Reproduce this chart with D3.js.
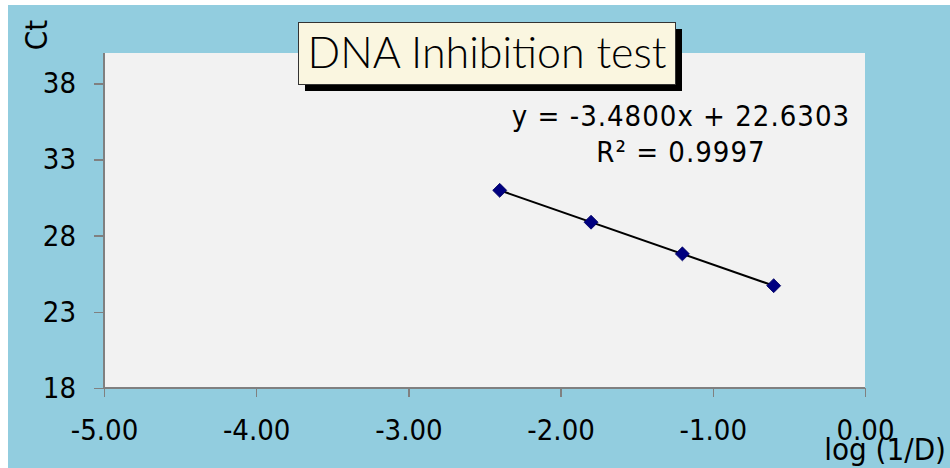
<!DOCTYPE html>
<html>
<head>
<meta charset="UTF-8">
<title>DNA Inhibition test</title>
<script src="https://d3js.org/d3.v7.min.js"></script>
<style>
    body { margin: 0; background: #fff; }
    .tick text { font-family: "DejaVu Sans Condensed", "DejaVu Sans", sans-serif; fill: #000; }
    .axis path, .axis line { stroke: #808080; stroke-width: 1.5; shape-rendering: crispEdges; }
</style>
</head>
<body>
<script>
    // data
    var logDilution = [-2.4, -1.8, -1.2, -0.6];
    var ctValues = [30.98, 28.89, 26.81, 24.72];
    var xTicks = [-5, -4, -3, -2, -1, 0];
    var yTicks = [18, 23, 28, 33, 38];
    var slope = -3.48, intercept = 22.6303;

    var width = 950, height = 468;
    var plot = { left: 104, right: 865, top: 53, bottom: 388 };

    var svg = d3.select("body").append("svg")
        .attr("width", width)
        .attr("height", height);

    // chart background
    svg.append("rect")
        .attr("x", 8).attr("y", 5)
        .attr("width", width - 8).attr("height", height - 5)
        .attr("fill", "#92CDDF");

    svg.append("rect")
        .attr("x", plot.left).attr("y", plot.top)
        .attr("width", plot.right - plot.left).attr("height", plot.bottom - plot.top)
        .attr("fill", "#F2F2F2");

    var x = d3.scaleLinear().domain([-5, 0]).range([plot.left, plot.right]);
    var y = d3.scaleLinear().domain([18, 40]).range([plot.bottom, plot.top]);

    var xAxis = d3.axisBottom(x).tickValues(xTicks).tickSize(9).tickPadding(22)
        .tickFormat(function (d) { return d.toFixed(2); });
    var yAxis = d3.axisLeft(y).tickValues(yTicks).tickSize(10).tickPadding(18)
        .tickFormat(function (d) { return d; });

    svg.append("g")
        .attr("class", "axis")
        .attr("transform", "translate(0," + plot.bottom + ")")
        .call(xAxis)
        .call(function (g) { g.select(".domain").attr("d", "M" + plot.left + ",0H" + plot.right); })
        .selectAll("text").style("font-size", "29px");

    svg.append("g")
        .attr("class", "axis")
        .attr("transform", "translate(" + plot.left + ",0)")
        .call(yAxis)
        .call(function (g) { g.select(".domain").attr("d", "M0," + plot.top + "V" + plot.bottom).attr("stroke", "#555"); })
        .selectAll("text").style("font-size", "29px");

    // trendline
    var xr = d3.extent(logDilution);
    svg.append("line")
        .attr("x1", x(xr[0])).attr("y1", y(slope * xr[0] + intercept))
        .attr("x2", x(xr[1])).attr("y2", y(slope * xr[1] + intercept))
        .attr("stroke", "#000").attr("stroke-width", 2);

    // markers
    svg.selectAll(".pt")
        .data(logDilution)
        .enter().append("path")
        .attr("class", "pt")
        .attr("transform", function (d, i) { return "translate(" + x(d) + "," + y(ctValues[i]) + ")"; })
        .attr("d", d3.symbol().type(d3.symbolDiamond2).size(125))
        .attr("fill", "#000080")
        .attr("stroke", "#000060")
        .attr("stroke-width", 0.8);

    // equation
    var eq = svg.append("text")
        .attr("text-anchor", "middle")
        .style("font-family", "\"DejaVu Sans Condensed\", \"DejaVu Sans\", sans-serif")
        .style("font-size", "29px")
        .style("letter-spacing", "1px");
    eq.append("tspan").attr("x", 681).attr("y", 126)
        .text("y = " + slope.toFixed(4) + "x + " + intercept.toFixed(4));
    eq.append("tspan").attr("x", 681).attr("y", 162).text("R² = 0.9997");

    // title box
    svg.append("rect")
        .attr("x", 305).attr("y", 29).attr("width", 377).attr("height", 62)
        .attr("fill", "#000");
    svg.append("rect")
        .attr("x", 298.5).attr("y", 22.5).attr("width", 377).attr("height", 62)
        .attr("fill", "#FAF6E0").attr("stroke", "#333").attr("stroke-width", 1);
    svg.append("text")
        .attr("x", 487).attr("y", 68)
        .attr("text-anchor", "middle")
        .style("font-family", "Lato, sans-serif")
        .style("font-size", "43px")
        .style("font-weight", "300")
        .text("DNA Inhibition test");

    // axis titles
    svg.append("text")
        .attr("transform", "translate(47,35) rotate(-90)")
        .attr("text-anchor", "middle")
        .style("font-family", "\"DejaVu Sans Condensed\", \"DejaVu Sans\", sans-serif")
        .style("font-size", "31px")
        .text("Ct");

    svg.append("text")
        .attr("x", 946).attr("y", 460)
        .attr("text-anchor", "end")
        .style("font-family", "\"DejaVu Sans Condensed\", \"DejaVu Sans\", sans-serif")
        .style("font-size", "31px")
        .text("log (1/D)");
</script>
</body>
</html>
